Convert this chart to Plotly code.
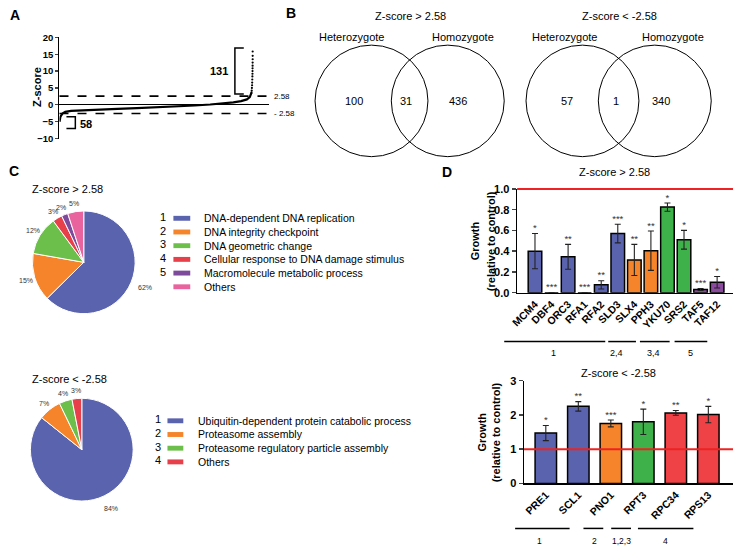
import math
import plotly.graph_objects as go

W, H = 736, 553
FONT = "Liberation Sans, Arial, sans-serif"

# ---------------- data ----------------
# Panel A: sorted Z-score curve (percent rank, z)
A_RANK = [0, 0.5, 1.5, 3, 6, 12, 20, 30, 40, 50, 60, 70, 78, 85, 90, 94, 97, 98.5, 99.2]
A_Z = [-5.0, -3.5, -2.6, -2.1, -1.8, -1.6, -1.4, -1.2, -1.0, -0.8, -0.5, -0.2, 0.1, 0.4, 0.7, 1.1, 1.6, 2.3, 3.0]
A_TOP_RANK = [99.4, 99.5, 99.6, 99.7, 99.75, 99.8, 99.85, 99.9, 99.92, 99.94, 99.96, 99.98, 100, 100, 100]
A_TOP_Z = [3.6, 4.2, 5.0, 5.8, 6.6, 7.5, 8.4, 9.2, 10.0, 10.8, 11.6, 12.5, 13.5, 14.5, 15.8]
A_THRESH = 2.58
A_N_UP, A_N_DOWN = 131, 58

# Panel B: Venn counts
VENN_UP = [100, 31, 436]
VENN_DOWN = [57, 1, 340]
VENN_SETS = ["Heterozygote", "Homozygote"]
VENN_TITLES = ["Z-score > 2.58", "Z-score < -2.58"]

# Panel C: pies
PIE_UP_LABELS = ["DNA-dependent DNA replication", "DNA integrity checkpoint", "DNA geometric change",
                 "Cellular response to DNA damage stimulus", "Macromolecule metabolic process", "Others"]
PIE_UP_NUM = ["1", "2", "3", "4", "5", ""]
PIE_UP_VALUES = [62, 15, 12, 3, 2, 5]
PIE_UP_COLORS = ["#5a63ae", "#f5842a", "#6bbf4a", "#e8404a", "#7e4a9c", "#e9649e"]

PIE_DN_LABELS = ["Ubiquitin-dependent protein catabolic process", "Proteasome assembly",
                 "Proteasome regulatory particle assembly", "Others"]
PIE_DN_NUM = ["1", "2", "3", "4"]
PIE_DN_VALUES = [84, 7, 4, 3]
PIE_DN_COLORS = ["#5a63ae", "#f5842a", "#6bbf4a", "#e8404a"]

# Panel D: bars
D1_GENES = ["MCM4", "DBF4", "ORC3", "RFA1", "RFA2", "SLD3", "SLX4", "PPH3", "YKU70", "SRS2", "TAF5", "TAF12"]
D1_VALUES = [0.40, 0.0, 0.345, 0.0, 0.075, 0.57, 0.315, 0.405, 0.825, 0.51, 0.03, 0.10]
D1_ERR = [0.17, 0.0, 0.12, 0.0, 0.04, 0.09, 0.15, 0.19, 0.04, 0.09, 0.01, 0.055]
D1_SIG = ["*", "***", "**", "***", "**", "***", "**", "**", "*", "*", "***", "*"]
D1_COLORS = ["#5a63ae"] * 6 + ["#f5842a"] * 2 + ["#3fb14a"] * 2 + ["#8a4a9e"] * 2

D2_GENES = ["PRE1", "SCL1", "PNO1", "RPT3", "RPC34", "RPS13"]
D2_VALUES = [1.47, 2.25, 1.75, 1.80, 2.06, 2.01]
D2_ERR = [0.22, 0.14, 0.10, 0.37, 0.07, 0.24]
D2_SIG = ["*", "**", "***", "*", "**", "*"]
D2_COLORS = ["#5a63ae", "#5a63ae", "#f5842a", "#3fb14a", "#ee4247", "#ee4247"]


# ---------------- helpers ----------------
def px(x):
    return x / W


def py(y):
    return 1 - y / H


fig = go.Figure()
annotations = []
shapes = []


def text(x, y, s, size=11, bold=False, xanchor="center", yanchor="middle", color="black", angle=0):
    annotations.append(dict(x=px(x), y=py(y), xref="paper", yref="paper", text=s, showarrow=False,
                            xanchor=xanchor, yanchor=yanchor, textangle=angle,
                            font=dict(size=size, color=color, family=FONT, weight="bold" if bold else "normal")))


def hline_px(x0, x1, y, width=1.5, color="black"):
    shapes.append(dict(type="line", xref="paper", yref="paper", x0=px(x0), x1=px(x1), y0=py(y), y1=py(y),
                       line=dict(color=color, width=width)))


# ---------------- Panel A ----------------
fig.add_trace(go.Scatter(x=A_RANK + [A_TOP_RANK[0]], y=A_Z + [A_TOP_Z[0]], mode="lines",
                         line=dict(color="black", width=2.2), xaxis="x", yaxis="y", showlegend=False,
                         hoverinfo="skip"))
fig.add_trace(go.Scatter(x=A_TOP_RANK, y=A_TOP_Z, mode="markers", marker=dict(color="black", size=2.2),
                         xaxis="x", yaxis="y", showlegend=False, hoverinfo="skip"))
# brackets
fig.add_trace(go.Scatter(x=[95.4, 90.8, 90.8, 95.4], y=[16.8, 16.8, 3.2, 3.2], mode="lines",
                         line=dict(color="black", width=1.5), xaxis="x", yaxis="y", showlegend=False,
                         hoverinfo="skip"))
fig.add_trace(go.Scatter(x=[3.6, 8.2, 8.2, 3.6], y=[-3.5, -3.5, -7.0, -7.0], mode="lines",
                         line=dict(color="black", width=1.5), xaxis="x", yaxis="y", showlegend=False,
                         hoverinfo="skip"))
annotations.append(dict(x=88.5, y=10, xref="x", yref="y", text=str(A_N_UP), showarrow=False, xanchor="right",
                        font=dict(size=11, family=FONT, weight="bold")))
annotations.append(dict(x=9.6, y=-5.6, xref="x", yref="y", text=str(A_N_DOWN), showarrow=False, xanchor="left",
                        font=dict(size=11, family=FONT, weight="bold")))
for v, lab in [(A_THRESH, "2.58"), (-A_THRESH, "- 2.58")]:
    shapes.append(dict(type="line", xref="x domain", yref="y", x0=0, x1=1, y0=v, y1=v,
                       line=dict(color="black", width=1.6, dash="dash")))
    annotations.append(dict(x=px(268), y=v, xref="paper", yref="y", text=lab, showarrow=False, xanchor="left",
                            font=dict(size=8, family=FONT)))
text(30, 83, "Z-score", size=11, bold=True, angle=-90)

fig.update_layout(
    xaxis=dict(domain=[px(53), px(265)], range=[0, 108.7], visible=False),
    yaxis=dict(domain=[py(135.5), py(32)], range=[-10, 20], tickvals=[-10, -5, 0, 5, 10, 15, 20],
               showline=True, linecolor="black", linewidth=1.3, ticks="outside", ticklen=3, tickwidth=1.3,
               tickfont=dict(size=9.5, family=FONT, weight="bold"), showgrid=False,
               zeroline=True, zerolinecolor="black", zerolinewidth=1),
)

# ---------------- Panel B (Venn) ----------------
venns = [
    (VENN_UP, VENN_TITLES[0], 368, 445, 407, (350, 403, 455), (348, 460)),
    (VENN_DOWN, VENN_TITLES[1], 581, 654, 618, (565, 615, 660), (563, 672)),
]
for counts, title, cx1, cx2, tx, numx, setx in venns:
    cy, r = 97, 57
    for cx in (cx1, cx2):
        shapes.append(dict(type="circle", xref="paper", yref="paper", x0=px(cx - r), x1=px(cx + r),
                           y0=py(cy + r), y1=py(cy - r), line=dict(color="black", width=1)))
    text(tx, 10, title, size=11)
    text(setx[0], 32, VENN_SETS[0], size=11)
    text(setx[1], 32, VENN_SETS[1], size=11)
    for x, c in zip(numx, counts):
        text(x, 97, str(c), size=11)


# ---------------- Panel C (pies) ----------------
def add_pie(values, colors, cx, cy, r):
    fig.add_trace(go.Pie(values=values, marker=dict(colors=colors, line=dict(color="white", width=1)),
                         sort=False, direction="clockwise", rotation=0, textinfo="none",
                         domain=dict(x=[px(cx - r), px(cx + r)], y=[py(cy + r), py(cy - r)]),
                         showlegend=False, hoverinfo="skip"))
    # percentage labels outside each slice, at the slice's mid-angle
    total = sum(values)
    cum = 0
    for v in values:
        mid = (cum + v / 2) / total * 2 * math.pi
        cum += v
        k = 1.16 if v / total < 0.3 else 1.28
        lx = cx + k * r * math.sin(mid)
        ly = cy - k * r * math.cos(mid)
        text(lx, ly, f"{v}%", size=7, color="#333")


add_pie(PIE_UP_VALUES, PIE_UP_COLORS, 77.5, 262, 52.5)
add_pie(PIE_DN_VALUES, PIE_DN_COLORS, 75.5, 453.5, 52.5)
text(61, 187, "Z-score > 2.58", size=11)
text(63, 381, "Z-score < -2.58", size=11)


def pie_legend(nums, labels, colors, y0, nx, sx0, sx1, tx):
    for i, (n, lab, col) in enumerate(zip(nums, labels, colors)):
        y = y0 + 14 * i
        text(nx, y - 1.5, n, size=11)
        shapes.append(dict(type="rect", xref="paper", yref="paper", x0=px(sx0), x1=px(sx1),
                           y0=py(y + 2.5), y1=py(y - 2.5), fillcolor=col, line=dict(width=0)))
        text(tx, y, lab, size=10.5, xanchor="left")


pie_legend(PIE_UP_NUM, PIE_UP_LABELS, PIE_UP_COLORS, 217, 157, 168, 185, 197)
pie_legend(PIE_DN_NUM, PIE_DN_LABELS, PIE_DN_COLORS, 424, 152, 162, 178, 191)


# ---------------- Panel D (bars) ----------------
def add_bars(genes, values, err, colors, sig, width, xa, ya):
    fig.add_trace(go.Bar(x=genes, y=values, width=width,
                         marker=dict(color=colors, line=dict(color="black", width=1.5)),
                         error_y=dict(type="data", array=err, color="#222", thickness=1.1, width=3),
                         xaxis=xa, yaxis=ya, showlegend=False, hoverinfo="skip"))
    fig.add_trace(go.Scatter(x=genes, y=[v + e for v, e in zip(values, err)], mode="text",
                             text=sig, textposition="top center",
                             textfont=dict(size=9.5, color="#333", family=FONT),
                             xaxis=xa, yaxis=ya, showlegend=False, hoverinfo="skip", cliponaxis=False))


add_bars(D1_GENES, D1_VALUES, D1_ERR, D1_COLORS, D1_SIG, 0.82, "x2", "y2")
add_bars(D2_GENES, D2_VALUES, D2_ERR, D2_COLORS, D2_SIG, 0.66, "x3", "y3")

axis_common = dict(showline=True, linecolor="black", linewidth=1.5, showgrid=False, zeroline=False)
fig.update_layout(
    xaxis2=dict(domain=[px(515), px(733)], range=[-1.08, 11.96], anchor="y2", tickangle=-45,
                tickfont=dict(size=10.5, family=FONT, weight="bold"), ticks="", **axis_common),
    yaxis2=dict(domain=[py(293), py(187)], range=[0, 1.0], anchor="x2", tickvals=[0, 0.2, 0.4, 0.6, 0.8, 1.0],
                tickformat=".1f", ticks="outside", ticklen=4, tickwidth=1.5,
                tickfont=dict(size=11, family=FONT, weight="bold"), **axis_common),
    xaxis3=dict(domain=[px(522), px(733)], range=[-0.67, 5.76], anchor="y3", tickangle=-45,
                tickfont=dict(size=10.5, family=FONT, weight="bold"), ticks="", **axis_common),
    yaxis3=dict(domain=[py(488), py(383)], range=[0, 3], anchor="x3", tickvals=[0, 1, 2, 3],
                ticks="outside", ticklen=4, tickwidth=1.5,
                tickfont=dict(size=11, family=FONT, weight="bold"), **axis_common),
)
# reference line at growth = 1 (relative to control)
shapes.append(dict(type="line", xref="x2 domain", yref="y2 domain", x0=0, x1=1, y0=1, y1=1, layer="above",
                   line=dict(color="#ee2222", width=2)))
shapes.append(dict(type="line", xref="x3 domain", yref="y3", x0=0, x1=1, y0=1, y1=1, layer="above",
                   line=dict(color="#ee2222", width=2)))

text(613, 170, "Z-score > 2.58", size=11)
text(617, 375, "Z-score < -2.58", size=11)
for (x1, x2, ycen) in [(472, 488, 240), (480, 494, 435.5)]:
    text(x1, ycen, "Growth", size=11, bold=True, angle=-90)
    text(x2, ycen, "(relative to control)", size=11, bold=True, angle=-90)

# group lines
for (x0, x1), (lab, lx) in zip([(502, 604), (607, 635), (639, 669), (674, 707)],
                               [("1", 552), ("2,4", 615), ("3,4", 653), ("5", 690)]):
    hline_px(x0, x1, 343)
    text(lx, 355, lab, size=9)
for (x0, x1), (lab, lx) in zip([(513, 568), (582, 602), (610, 630), (637, 693)],
                               [("1", 538), ("2", 593), ("1,2,3", 620), ("4", 665)]):
    hline_px(x0, x1, 534)
    text(lx, 547, lab, size=8.5)

# panel letters
text(8, 9, "A", size=14, bold=True)
text(287, 7, "B", size=14, bold=True)
text(7, 169, "C", size=14, bold=True)
text(444, 170, "D", size=14, bold=True)

fig.update_layout(width=W, height=H, margin=dict(l=0, r=0, t=0, b=0), paper_bgcolor="white",
                  plot_bgcolor="white", annotations=annotations, shapes=shapes, bargap=0,
                  font=dict(family=FONT, color="black"))
fig.write_html("out.html", config={"displayModeBar": False, "staticPlot": True},
               post_script="document.body.style.margin='0';document.body.style.overflow='hidden';")
